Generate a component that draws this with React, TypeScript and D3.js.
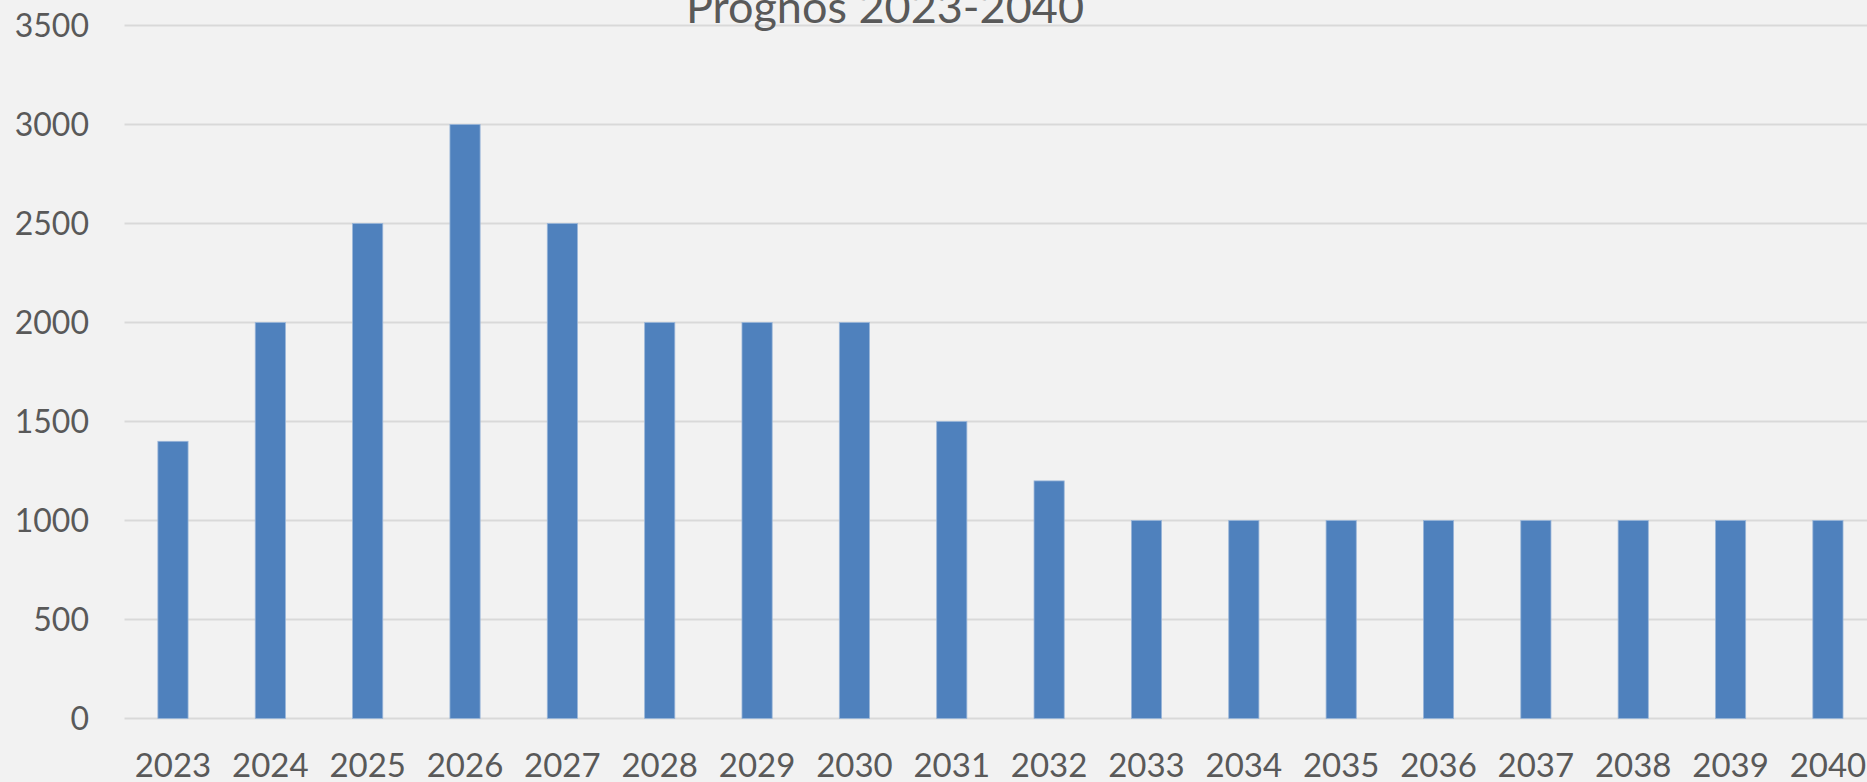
import React from 'react';
import * as d3 from 'd3';

const years = ['2023', '2024', '2025', '2026', '2027', '2028', '2029', '2030', '2031', '2032', '2033', '2034', '2035', '2036', '2037', '2038', '2039', '2040'];
const values = [1400, 2000, 2500, 3000, 2500, 2000, 2000, 2000, 1500, 1200, 1000, 1000, 1000, 1000, 1000, 1000, 1000, 1000];
const yTicks = [0, 500, 1000, 1500, 2000, 2500, 3000, 3500];

const W = 1867;
const H = 782;
const font = 'Lato, "Open Sans", sans-serif';

export default function App() {
  const x = d3.scaleBand<string>().domain(years).range([124.3, 1876.6]).paddingInner(0.69).paddingOuter(0.345);
  const y = d3.scaleLinear().domain([0, 3500]).range([718.5, 25.5]);

  return (
    <svg width={W} height={H} style={{ position: 'absolute', left: 0, top: 0, display: 'block' }}>
      <rect width={W} height={H} fill="#f2f2f2" />
      {yTicks.map((t) => (
        <g key={t}>
          <line x1={124.5} x2={W} y1={y(t)} y2={y(t)} stroke="#d9d9d9" strokeWidth={2} />
          <text x={89} y={y(t)} dy="0.35em" textAnchor="end" fontFamily={font} fontSize={32} fill="#595959">
            {t}
          </text>
        </g>
      ))}
      {values.map((v, i) => (
        <rect
          key={years[i]}
          x={x(years[i])}
          y={y(v)}
          width={x.bandwidth()}
          height={y(0) - y(v)}
          fill="#4f81bd"
          stroke="#9ab6d9"
          strokeWidth={0.8}
        />
      ))}
      {years.map((yr) => (
        <text key={yr} x={(x(yr) ?? 0) + x.bandwidth() / 2} y={777} textAnchor="middle" fontFamily={font} fontSize={33} fill="#595959">
          {yr}
        </text>
      ))}
      <text x={885} y={23} textAnchor="middle" fontFamily={font} fontSize={45} fill="#595959">
        Prognos 2023-2040
      </text>
    </svg>
  );
}
